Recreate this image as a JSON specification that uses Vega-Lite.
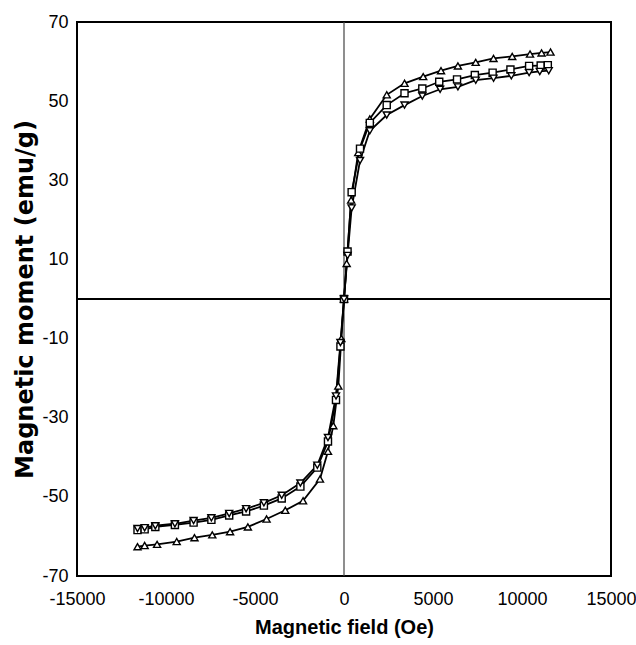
{
  "$schema": "https://vega.github.io/schema/vega-lite/v6.json",
  "width": 534,
  "height": 554,
  "autosize": {"type": "none"},
  "padding": {"left": 77, "top": 22, "right": 25, "bottom": 69},
  "background": "white",
  "config": {
    "view": {"stroke": "black", "strokeWidth": 2},
    "axis": {
      "grid": false,
      "ticks": false,
      "domain": false,
      "labelFont": "Liberation Sans",
      "labelFontSize": 18,
      "labelColor": "black",
      "labelOverlap": false,
      "labelFlush": false,
      "titleColor": "black"
    }
  },
  "datasets": {
    "loops": [
      {"series": "A", "field": -11600, "moment": -62.6},
      {"series": "A", "field": -11200, "moment": -62.3},
      {"series": "A", "field": -10500, "moment": -62.0},
      {"series": "A", "field": -9400, "moment": -61.3},
      {"series": "A", "field": -8400, "moment": -60.3},
      {"series": "A", "field": -7400, "moment": -59.6},
      {"series": "A", "field": -6400, "moment": -58.8},
      {"series": "A", "field": -5400, "moment": -57.6},
      {"series": "A", "field": -4350, "moment": -55.6},
      {"series": "A", "field": -3300, "moment": -53.4},
      {"series": "A", "field": -2300, "moment": -51.0},
      {"series": "A", "field": -1350, "moment": -45.5},
      {"series": "A", "field": -900, "moment": -38.5},
      {"series": "A", "field": -600, "moment": -32},
      {"series": "A", "field": -320, "moment": -22},
      {"series": "A", "field": -150, "moment": -10},
      {"series": "A", "field": 0, "moment": 0},
      {"series": "A", "field": 150, "moment": 9},
      {"series": "A", "field": 400, "moment": 25},
      {"series": "A", "field": 800, "moment": 37},
      {"series": "A", "field": 1450, "moment": 45.5},
      {"series": "A", "field": 2400, "moment": 51.6},
      {"series": "A", "field": 3400, "moment": 54.5},
      {"series": "A", "field": 4450, "moment": 56.2},
      {"series": "A", "field": 5450, "moment": 57.7},
      {"series": "A", "field": 6400, "moment": 58.9},
      {"series": "A", "field": 7400, "moment": 59.8},
      {"series": "A", "field": 8400, "moment": 60.8},
      {"series": "A", "field": 9450, "moment": 61.3},
      {"series": "A", "field": 10450, "moment": 61.9},
      {"series": "A", "field": 11100, "moment": 62.2},
      {"series": "A", "field": 11600, "moment": 62.4},

      {"series": "B", "field": -11600, "moment": -58.4},
      {"series": "B", "field": -11200, "moment": -58.2},
      {"series": "B", "field": -10600, "moment": -57.6},
      {"series": "B", "field": -9500, "moment": -57.1},
      {"series": "B", "field": -8450, "moment": -56.5},
      {"series": "B", "field": -7450, "moment": -55.8},
      {"series": "B", "field": -6450, "moment": -54.7},
      {"series": "B", "field": -5500, "moment": -53.7},
      {"series": "B", "field": -4500, "moment": -52.2},
      {"series": "B", "field": -3500, "moment": -50.4},
      {"series": "B", "field": -2450, "moment": -47.4},
      {"series": "B", "field": -1500, "moment": -42.6},
      {"series": "B", "field": -900, "moment": -36},
      {"series": "B", "field": -450, "moment": -25.5},
      {"series": "B", "field": -200, "moment": -12},
      {"series": "B", "field": 0, "moment": 0},
      {"series": "B", "field": 200, "moment": 12},
      {"series": "B", "field": 430, "moment": 27},
      {"series": "B", "field": 900, "moment": 38},
      {"series": "B", "field": 1450, "moment": 44.5},
      {"series": "B", "field": 2400, "moment": 49.0},
      {"series": "B", "field": 3400, "moment": 52.0},
      {"series": "B", "field": 4400, "moment": 53.2},
      {"series": "B", "field": 5350, "moment": 54.9},
      {"series": "B", "field": 6350, "moment": 55.5},
      {"series": "B", "field": 7350, "moment": 56.6},
      {"series": "B", "field": 8350, "moment": 57.2},
      {"series": "B", "field": 9350, "moment": 58.0},
      {"series": "B", "field": 10400, "moment": 58.9},
      {"series": "B", "field": 11050, "moment": 59.0},
      {"series": "B", "field": 11450, "moment": 59.1},

      {"series": "C", "field": -11600, "moment": -58.0},
      {"series": "C", "field": -11200, "moment": -57.8},
      {"series": "C", "field": -10600, "moment": -57.3},
      {"series": "C", "field": -9500, "moment": -56.8},
      {"series": "C", "field": -8450, "moment": -56.0},
      {"series": "C", "field": -7450, "moment": -55.3},
      {"series": "C", "field": -6450, "moment": -54.2},
      {"series": "C", "field": -5500, "moment": -53.0},
      {"series": "C", "field": -4500, "moment": -51.5},
      {"series": "C", "field": -3500, "moment": -49.6},
      {"series": "C", "field": -2450, "moment": -46.5},
      {"series": "C", "field": -1500, "moment": -42.0},
      {"series": "C", "field": -900, "moment": -35},
      {"series": "C", "field": -450, "moment": -24.5},
      {"series": "C", "field": -200, "moment": -11},
      {"series": "C", "field": 0, "moment": 0},
      {"series": "C", "field": 200, "moment": 11},
      {"series": "C", "field": 430, "moment": 23},
      {"series": "C", "field": 900, "moment": 35},
      {"series": "C", "field": 1450, "moment": 42.5},
      {"series": "C", "field": 2400, "moment": 46.5},
      {"series": "C", "field": 3400, "moment": 49.0},
      {"series": "C", "field": 4400, "moment": 51.3},
      {"series": "C", "field": 5400, "moment": 53.0},
      {"series": "C", "field": 6400, "moment": 53.6},
      {"series": "C", "field": 7400, "moment": 55.3},
      {"series": "C", "field": 8400, "moment": 55.8},
      {"series": "C", "field": 9400, "moment": 56.4},
      {"series": "C", "field": 10400, "moment": 57.2},
      {"series": "C", "field": 11000, "moment": 57.5},
      {"series": "C", "field": 11500, "moment": 57.7}
    ],
    "zeros": [{"zero": 0}]
  },
  "encoding": {
    "x": {
      "field": "field", "type": "quantitative",
      "scale": {"domain": [-15000, 15000], "nice": false, "zero": false},
      "axis": {
        "values": [-15000, -10000, -5000, 0, 5000, 10000, 15000],
        "labelExpr": "'' + datum.value",
        "labelPadding": 14,
        "title": "Magnetic field (Oe)",
        "titleFont": "Liberation Sans",
        "titleFontSize": 20,
        "titleFontWeight": "bold",
        "titlePadding": 9
      }
    },
    "y": {
      "field": "moment", "type": "quantitative",
      "scale": {"domain": [-70, 70], "nice": false, "zero": false},
      "axis": {
        "values": [-70, -50, -30, -10, 10, 30, 50, 70],
        "labelExpr": "'' + datum.value",
        "labelPadding": 9,
        "title": "Magnetic moment (emu/g)",
        "titleFont": "DejaVu Sans",
        "titleFontSize": 24,
        "titleFontWeight": "bold",
        "titlePadding": 4
      }
    }
  },
  "layer": [
    {
      "data": {"name": "zeros"},
      "mark": {"type": "rule", "color": "#444444", "strokeWidth": 1.2},
      "encoding": {"x": {"field": "zero", "type": "quantitative"}, "y": null}
    },
    {
      "data": {"name": "zeros"},
      "mark": {"type": "rule", "color": "black", "strokeWidth": 2},
      "encoding": {"y": {"field": "zero", "type": "quantitative"}, "x": null}
    },
    {
      "data": {"name": "loops"},
      "mark": {"type": "line", "color": "black", "strokeWidth": 1.8},
      "encoding": {"detail": {"field": "series"}, "order": {"field": "field", "type": "quantitative"}}
    },
    {
      "data": {"name": "loops"},
      "mark": {"type": "point", "filled": true, "fill": "white", "stroke": "black", "strokeWidth": 1.4, "size": 50, "opacity": 1},
      "encoding": {
        "shape": {
          "field": "series", "type": "nominal",
          "scale": {"domain": ["A", "B", "C"], "range": ["triangle-up", "square", "triangle-down"]},
          "legend": null
        }
      }
    }
  ]
}
